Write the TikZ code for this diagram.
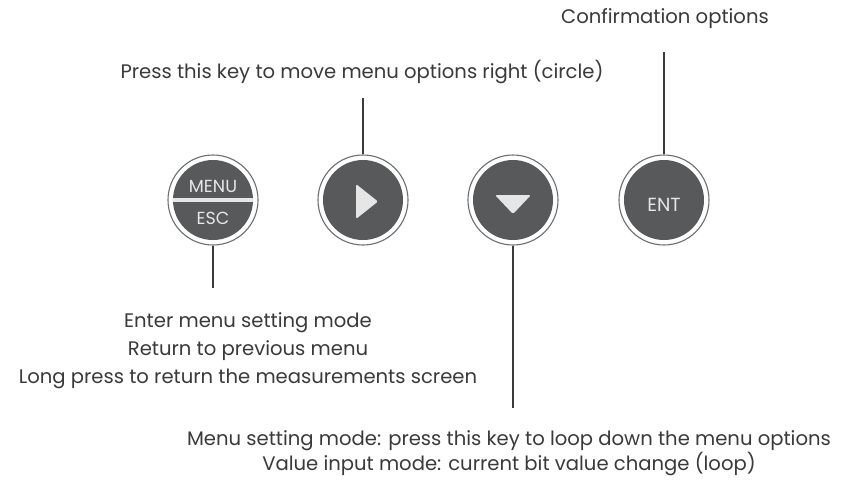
\documentclass[tikz,border=0pt]{standalone}
\usepackage{fontspec}
\setmainfont{Poppins}
\definecolor{keygray}{HTML}{58595B}
\definecolor{ringgray}{HTML}{6D6E70}
\definecolor{glyphgray}{HTML}{E6E6E7}
\definecolor{textgray}{HTML}{3A3A3A}
\tikzset{
    key/.style={circle,draw=ringgray,line width=1.1pt,fill=white,minimum size=90pt,inner sep=0pt,
        path picture={\fill[keygray] (path picture bounding box.center) circle [radius=40pt];}},
    splitkey/.style={key,
        path picture={\fill[keygray] (path picture bounding box.center) circle [radius=40pt];
            \fill[glyphgray] ([shift={(-39.9pt,-2pt)}]path picture bounding box.center) rectangle ([shift={(39.9pt,2pt)}]path picture bounding box.center);}},
    keytext/.style={text=glyphgray,font=\fontsize{17.5}{19}\selectfont,inner sep=0pt},
    lead/.style={draw=textgray,line width=1.3pt},
    note/.style={text=textgray,font=\fontsize{19.6}{22}\selectfont,anchor=base,inner sep=0pt}
}
\begin{document}
\begin{tikzpicture}[x=1pt,y=-1pt]
    \useasboundingbox[fill=white] (0,0) rectangle (854,480);
    %% Keys
    \node[splitkey] (menu)  at (213,200) {};
        \node[keytext] (menutxt) at (213,186) {MENU};
        \node[keytext] (esctxt)  at (213,218) {ESC};
    \node[key] (right) at (363,200) {};
        \fill[glyphgray,rounded corners=1.5pt] (356,184) -- (356,219) -- (378,201.5) -- cycle;
    \node[key] (down)  at (513,200) {};
        \fill[glyphgray,rounded corners=1.5pt] (495,195) -- (531,195) -- (513,214) -- cycle;
    \node[key] (ent)   at (664,200) {};
        \node[keytext,font=\fontsize{19}{21}\selectfont] (enttxt) at (664,205) {ENT};
    %% Leader lines
    \coordinate (menuend)  at (213,288);
    \coordinate (rightend) at (363,98);
    \coordinate (downend)  at (513,408);
    \coordinate (entend)   at (664,52);
        \draw[lead] (menu.south)  -- (menuend);
        \draw[lead] (right.north) -- (rightend);
        \draw[lead] (down.south)  -- (downend);
        \draw[lead] (ent.north)   -- (entend);
    %% Notes
    \node[note] (entnote)   at (665,23) {Confirmation options};
    \node[note] (rightnote) at (362,78) {Press this key to move menu options right (circle)};
    \node[note] (menunote1) at (248,327) {Enter menu setting mode};
    \node[note] (menunote2) at (248,355) {Return to previous menu};
    \node[note] (menunote3) at (248,383) {Long press to return the measurements screen};
    \node[note] (downnote1) at (509,445) {Menu setting mode: press this key to loop down the menu options};
    \node[note] (downnote2) at (509,470) {Value input mode: current bit value change (loop)};
\end{tikzpicture}
\end{document}
